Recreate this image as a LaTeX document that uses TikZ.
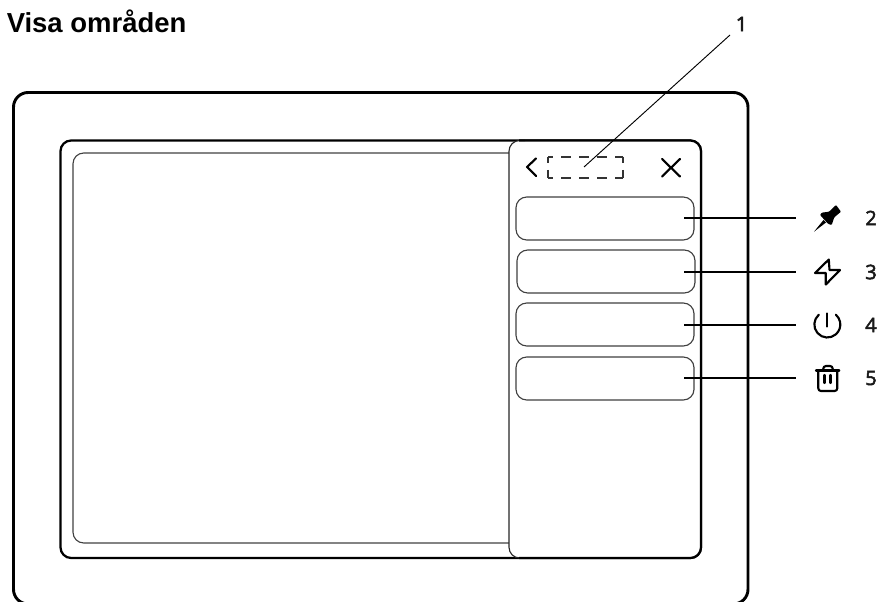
\documentclass[tikz,border=0pt]{standalone}
\usepackage{fontspec}
\setmainfont{Liberation Sans}
\newfontfamily\labelfont[RawFeature={embolden=2.5}]{Open Sans}
\tikzset{
  frameline/.style={draw=black,line width=2.2pt,rounded corners=11pt},
  screenline/.style={draw=black,line width=1.7pt,rounded corners=8pt},
  thinbox/.style={draw=black!75,line width=0.85pt,rounded corners=8pt},
  leader/.style={draw=black,line width=0.95pt},
  iconline/.style={draw=black,line width=1.6pt,line cap=round,line join=round},
  dashside/.style={draw=black!80,line width=0.8pt},
  numlabel/.style={font=\labelfont\fontsize{15}{17}\selectfont,text=black!90,inner sep=0pt,anchor=center},
}
\begin{document}
\begin{tikzpicture}[x=0.75pt,y=-0.75pt]
\useasboundingbox (0,0) rectangle (881,602);
\node[font=\fontsize{20.6}{23}\selectfont\bfseries,inner sep=0pt,anchor=base west] (title) at (6.5,33) {Visa områden};
\begin{scope}
\clip (0,0) rectangle (881,602);
\draw[frameline] (13.5,92.5) rectangle (748,604);
\end{scope}
\draw[screenline] (60.5,140.5) rectangle (701,558);
\draw[thinbox] (73,153) rectangle (530,543);
\fill[white,rounded corners=8pt] (509,140.5) rectangle (701,558);
\draw[thinbox,draw=black!85] (525,558) -- (509,558) -- (509,140.5) -- (525,140.5);
\draw[screenline] (519,140.5) -- (701,140.5) -- (701,558) -- (519,558);
\draw[thinbox] (516,197) rectangle (694,240);
\draw[thinbox] (517,250) rectangle (695,293);
\draw[thinbox] (516,303) rectangle (694,346);
\draw[thinbox] (516,357) rectangle (694,400);
% dashed placeholder
\draw[dashside,dash pattern=on 7.5pt off 6pt,dash phase=3.6pt] (548,157) -- (623,157);
\draw[dashside,dash pattern=on 7.5pt off 6pt,dash phase=3.6pt] (548,178) -- (623,178);
\draw[dashside] (548,156.6) -- (548,163) (548,170) -- (548,178.4);
\draw[dashside] (623,156.6) -- (623,163) (623,170) -- (623,178.4);
\draw[iconline] (536,158.5) -- (527,167) -- (536,176);
\draw[iconline] (662,159) -- (680,176.5) (680,159) -- (662,176.5);
\node[numlabel] (n1) at (741.5,24) {1};
\coordinate (t1) at (584,167);
\coordinate (s1) at (730,35);
\draw[draw=black,line width=0.7pt] (s1) -- (t1);
\foreach \n/\y in {2/218,3/272,4/325,5/378}{
  \coordinate (a\n) at (684,\y);
  \coordinate (b\n) at (796,\y);
  \draw[leader] (a\n) -- (b\n);
  \node[numlabel] (n\n) at (871,\y) {\n};
}
% pin
\fill[black,rounded corners=0.6pt] (836,205) -- (841,211.7) -- (834.3,217.3) -- (831.7,225) -- (828.3,224) -- (820,215) -- (821.7,212.7) -- (829,211.7) -- cycle;
\fill[black] (814,231.7) -- (823.5,220) -- (826,222.5) -- cycle;
% bolt
\draw[iconline] (828.8,259.5) -- (815,273) -- (825.8,273) -- (825.8,284.5) -- (840,270) -- (829.5,270) -- cycle;
% power
\draw[iconline] (818.8,314.7) arc[start angle=131,end angle=409,radius=9.75pt];
\draw[iconline] (827.3,313.5) -- (827.3,326.5);
% trash
\draw[iconline] (816,370.5) -- (839.3,370.5);
\draw[iconline,rounded corners=2pt] (818.3,370.5) -- (818.3,391) -- (837.3,391) -- (837.3,370.5);
\draw[iconline,rounded corners=2pt] (823.3,370.5) -- (823.3,366) -- (832.7,366) -- (832.7,370.5);
\draw[iconline] (824.5,375) -- (824.5,383) (830.5,375) -- (830.5,383);
\end{tikzpicture}
\end{document}
